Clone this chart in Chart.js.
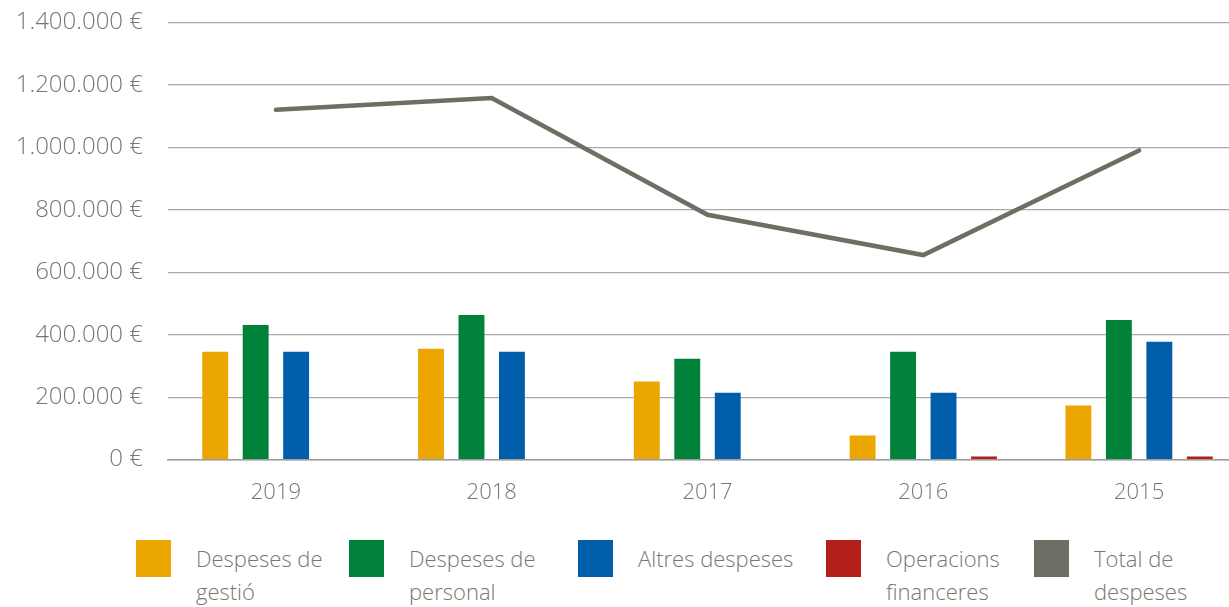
<!DOCTYPE html>
<html lang="ca">
<head>
    <meta charset="UTF-8">
    <title>Despeses</title>
    <script src="https://cdn.jsdelivr.net/npm/chart.js"></script>
    <style>
        html, body {
            margin: 0;
            padding: 0;
            background: #ffffff;
            overflow: hidden;
            width: 1229px;
            height: 607px;
        }
        .grafic {
            position: absolute;
            left: 0;
            top: -17px;
            width: 1247px;
            height: 555px;
        }
        .llegenda {
            position: absolute;
            left: 136px;
            top: 540px;
            display: grid;
            grid-template-columns: 213px 229px 248px 208px auto;
            font-family: "Open Sans", sans-serif;
            font-weight: 300;
            font-size: 22px;
            line-height: 33px;
            color: #77776e;
        }
        .item {
            display: flex;
            align-items: flex-start;
        }
        .caixa {
            width: 35px;
            height: 37px;
            flex: none;
            margin-right: 25px;
        }
        .text {
            margin-top: 2px;
            white-space: nowrap;
        }
    </style>
</head>
<body>
    <div class="grafic">
        <canvas id="canva1"></canvas>
    </div>
    <div class="llegenda" id="llegenda"></div>

<script>
    // dades llegides del gràfic
    var anys = ["2019", "2018", "2017", "2016", "2015"];
    var despesesGestio = [345000, 355000, 250000, 77000, 173000];
    var despesesPersonal = [431000, 463000, 323000, 345000, 447000];
    var altresDespeses = [345000, 345000, 214000, 214000, 377000];
    var operacionsFinanceres = [null, null, null, 10000, 10000];
    var totalDespeses = [1120000, 1158000, 784000, 655000, 990000];
    var ticksY = [0, 200000, 400000, 600000, 800000, 1000000, 1200000, 1400000];

    var noms = [
        ["Despeses de", "gestió"],
        ["Despeses de", "personal"],
        ["Altres despeses"],
        ["Operacions", "financeres"],
        ["Total de", "despeses"]
    ];
    var colors = ["#eba700", "#00823a", "#005eab", "#b31f1b", "#6e6e64"];
    var grisText = "#77776e";

    function euros(v) {
        return String(v).replace(/\B(?=(\d{3})+(?!\d))/g, ".") + " €";
    }

    function barra(i, dades) {
        return {
            type: "bar",
            label: noms[i].join(" "),
            data: dades,
            backgroundColor: colors[i],
            borderWidth: 0,
            categoryPercentage: 0.75,
            barPercentage: 0.64,
            order: 2
        };
    }

    new Chart(document.getElementById("canva1"), {
        data: {
            labels: anys,
            datasets: [
                barra(0, despesesGestio),
                barra(1, despesesPersonal),
                barra(2, altresDespeses),
                barra(3, operacionsFinanceres),
                {
                    type: "line",
                    label: noms[4].join(" "),
                    data: totalDespeses,
                    borderColor: colors[4],
                    backgroundColor: colors[4],
                    borderWidth: 4.5,
                    borderCapStyle: "round",
                    pointRadius: 0,
                    tension: 0,
                    order: 1
                }
            ]
        },
        options: {
            responsive: true,
            maintainAspectRatio: false,
            animation: false,
            layout: {
                padding: { top: 3, right: 0, bottom: 12, left: 0 }
            },
            plugins: {
                legend: { display: false },
                tooltip: { enabled: false }
            },
            scales: {
                x: {
                    offset: true,
                    grid: { display: false, drawTicks: false },
                    border: { display: true, color: "#9c9c9c", width: 1.5 },
                    ticks: {
                        color: grisText,
                        padding: 20,
                        font: { family: "Open Sans", size: 22, weight: 300 }
                    }
                },
                y: {
                    min: 0,
                    max: 1400000,
                    afterFit: function (scale) { scale.width = 168; },
                    afterBuildTicks: function (scale) {
                        scale.ticks = ticksY.map(function (v) { return { value: v }; });
                    },
                    grid: { color: "#a8a8a8", lineWidth: 1.2, drawTicks: false },
                    border: { display: false },
                    ticks: {
                        color: grisText,
                        padding: 25,
                        font: { family: "Open Sans", size: 24, weight: 300 },
                        callback: function (v) { return euros(v); }
                    }
                }
            }
        }
    });

    // llegenda en HTML
    var html = "";
    for (var i = 0; i < noms.length; i++) {
        html += '<div class="item"><div class="caixa" style="background:' + colors[i] + '"></div>' +
            '<div class="text">' + noms[i].join("<br>") + '</div></div>';
    }
    document.getElementById("llegenda").innerHTML = html;
</script>
</body>
</html>
